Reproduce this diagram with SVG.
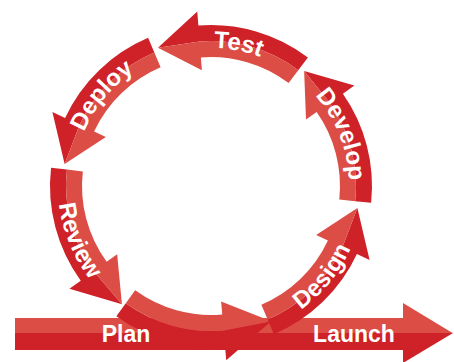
<svg xmlns="http://www.w3.org/2000/svg" xmlns:xlink="http://www.w3.org/1999/xlink" width="454" height="362" viewBox="0 0 454 362">
  <style>
    .dk { fill: #cf2128; }
    .lt { fill: #dc4d46; }
    .lbl { font-family: "Liberation Sans", Arial, sans-serif; font-weight: bold; font-size: 24px; fill: #ffffff; }
    .bar-lbl { font-size: 23px; }
  </style>
  <defs>
    <!-- label baselines: clockwise arcs (r=138) keep letters upright outward, counter-clockwise arcs (r=153) face inward -->
    <path id="p-test" d="M 124.15 78.75 A 138 138 0 0 1 331.70 119.10"/>
    <path id="p-deploy" d="M 75.27 210.91 A 138 138 0 0 1 210.04 48.00"/>
    <path id="p-develop" d="M 254.56 55.05 A 138 138 0 0 1 332.39 251.64"/>
    <path id="p-design" d="M 213.67 338.98 A 153 153 0 0 0 361.19 156.81"/>
    <path id="p-review" d="M 75.53 114.88 A 153 153 0 0 0 164.49 331.72"/>
  </defs>

  <rect width="454" height="362" fill="#ffffff"/>

  <!-- arrows: ring centred at (211,186), band r 129..161, outer half dark, inner half light -->
  <g id="connectors">
    <!-- timeline bar -->
    <g id="bar">
      <rect class="lt" x="15" y="318" width="389" height="15.5"/>
      <rect class="dk" x="15" y="333" width="389" height="17"/>
      <polygon class="lt" points="403,303 453,333.2 403,333.2"/>
      <polygon class="dk" points="403,333 453,333 403,363"/>
    </g>
    <!-- Plan arc -->
    <g id="arc-plan">
      <path class="dk" d="M 116.37 316.25 A 161 161 0 0 0 225.03 346.39 L 226.25 360.33 L 271.2 321.2 L 223.64 330.45 A 145 145 0 0 1 125.77 303.31 Z"/>
      <path class="lt" d="M 125.77 303.31 A 145 145 0 0 0 223.64 330.45 L 271.2 321.2 L 221.11 301.56 L 222.24 314.51 A 129 129 0 0 1 135.17 290.36 Z"/>
    </g>
    <!-- Design arc -->
    <g id="arc-design">
      <path class="dk" d="M 273.91 334.20 A 161 161 0 0 0 356.92 254.04 L 369.60 259.96 L 357.38 207.88 L 342.41 247.28 A 145 145 0 0 1 267.66 319.47 Z"/>
      <path class="lt" d="M 267.66 319.47 A 145 145 0 0 0 342.41 247.28 L 357.38 207.88 L 316.13 235.02 L 327.91 240.52 A 129 129 0 0 1 261.40 304.74 Z"/>
    </g>
    <!-- Develop arc -->
    <g id="arc-develop">
      <path class="dk" d="M 371.12 202.83 A 161 161 0 0 0 342.88 93.65 L 354.35 85.62 L 304.14 70.98 L 329.78 102.83 A 145 145 0 0 1 355.21 201.16 Z"/>
      <path class="lt" d="M 355.21 201.16 A 145 145 0 0 0 329.78 102.83 L 304.14 70.98 L 306.02 119.46 L 316.67 112.01 A 129 129 0 0 1 339.29 199.48 Z"/>
    </g>
    <!-- Test arc -->
    <g id="arc-test">
      <path class="dk" d="M 307.89 57.42 A 161 161 0 0 0 198.37 25.50 L 197.27 11.54 L 157.96 47.83 L 199.62 41.45 A 145 145 0 0 1 298.26 70.20 Z"/>
      <path class="lt" d="M 298.26 70.20 A 145 145 0 0 0 199.62 41.45 L 157.96 47.83 L 201.90 70.36 L 200.88 57.40 A 129 129 0 0 1 288.63 82.98 Z"/>
    </g>
    <!-- Deploy arc -->
    <g id="arc-deploy">
      <path class="dk" d="M 148.09 37.80 A 161 161 0 0 0 65.08 117.96 L 52.40 112.04 L 64.62 164.12 L 79.59 124.72 A 145 145 0 0 1 154.34 52.53 Z"/>
      <path class="lt" d="M 154.34 52.53 A 145 145 0 0 0 79.59 124.72 L 64.62 164.12 L 105.87 136.98 L 94.09 131.48 A 129 129 0 0 1 160.60 67.26 Z"/>
    </g>
    <!-- Review arc -->
    <g id="arc-review">
      <path class="dk" d="M 51.04 167.77 A 161 161 0 0 0 80.75 280.63 L 69.42 288.86 L 121.93 304.20 L 93.69 271.23 A 145 145 0 0 1 66.93 169.59 Z"/>
      <path class="lt" d="M 66.93 169.59 A 145 145 0 0 0 93.69 271.23 L 121.93 304.20 L 117.15 254.18 L 106.64 261.83 A 129 129 0 0 1 82.83 171.40 Z"/>
    </g>
  </g>

  <!-- phase labels -->
  <g id="plan"><text class="lbl bar-lbl" x="126" y="342" text-anchor="middle">Plan</text></g>
  <g id="design"><text class="lbl"><textPath xlink:href="#p-design" href="#p-design" startOffset="50%" text-anchor="middle">Design</textPath></text></g>
  <g id="develop"><text class="lbl"><textPath xlink:href="#p-develop" href="#p-develop" startOffset="50%" text-anchor="middle">Develop</textPath></text></g>
  <g id="test"><text class="lbl"><textPath xlink:href="#p-test" href="#p-test" startOffset="50%" text-anchor="middle">Test</textPath></text></g>
  <g id="deploy"><text class="lbl"><textPath xlink:href="#p-deploy" href="#p-deploy" startOffset="50%" text-anchor="middle">Deploy</textPath></text></g>
  <g id="review"><text class="lbl"><textPath xlink:href="#p-review" href="#p-review" startOffset="50%" text-anchor="middle">Review</textPath></text></g>
  <g id="launch"><text class="lbl bar-lbl" x="354" y="342" text-anchor="middle">Launch</text></g>
</svg>
